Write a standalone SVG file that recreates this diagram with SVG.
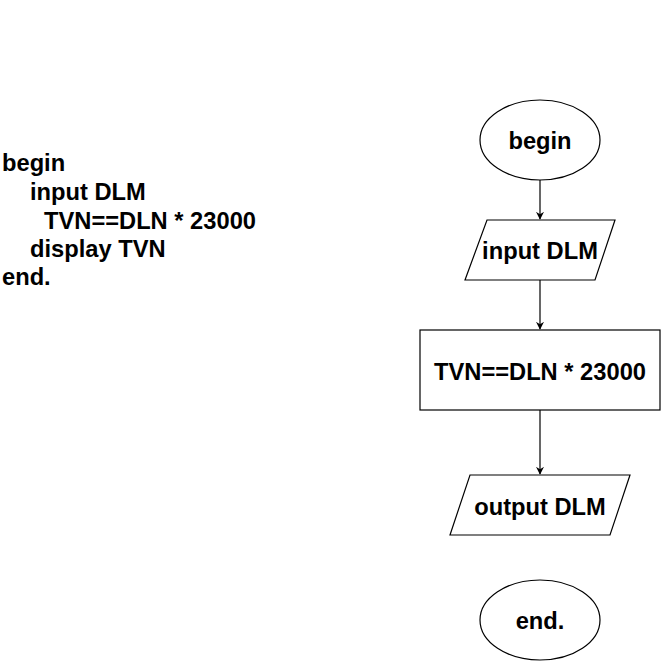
<svg xmlns="http://www.w3.org/2000/svg" width="661" height="661" viewBox="0 0 661 661">
<defs>
<style>
.s{fill:#fff;stroke:#000;stroke-width:1.2}
.t{font-family:"Liberation Sans",Arial,sans-serif;font-weight:bold;font-size:23.7px;fill:#000}
.m{text-anchor:middle}
.c{stroke:#000;stroke-width:1.2;fill:none}
</style>
<marker id="a" viewBox="0 0 10 10" refX="9" refY="5" markerWidth="8" markerHeight="8" orient="auto" markerUnits="userSpaceOnUse">
<path d="M0,0 L10,5 L0,10 L3,5 Z" fill="#000"/>
</marker>
</defs>
<rect width="661" height="661" fill="#fff"/>
<g id="code">
<text class="t" x="2" y="171">begin</text>
<text class="t" x="30" y="200">input DLM</text>
<text class="t" x="44" y="229">TVN==DLN * 23000</text>
<text class="t" x="30" y="257">display TVN</text>
<text class="t" x="2" y="285">end.</text>
</g>
<g id="connectors">
<line class="c" x1="540" y1="180" x2="540" y2="219" marker-end="url(#a)"/>
<line class="c" x1="540" y1="280" x2="540" y2="329" marker-end="url(#a)"/>
<line class="c" x1="540" y1="410" x2="540" y2="474" marker-end="url(#a)"/>
</g>
<g id="begin">
<ellipse class="s" cx="540" cy="140" rx="60" ry="40"/>
<text class="t m" x="540" y="149">begin</text>
</g>
<g id="input">
<polygon class="s" points="487,220 615,220 595,280 465,280"/>
<text class="t m" x="540" y="259">input DLM</text>
</g>
<g id="process">
<rect class="s" x="420" y="330" width="240" height="80"/>
<text class="t m" x="540" y="380">TVN==DLN * 23000</text>
</g>
<g id="output">
<polygon class="s" points="470,475 630,475 610,535 450,535"/>
<text class="t m" x="540" y="515">output DLM</text>
</g>
<g id="end">
<ellipse class="s" cx="540" cy="620" rx="60" ry="40"/>
<text class="t m" x="540" y="629">end.</text>
</g>
</svg>
